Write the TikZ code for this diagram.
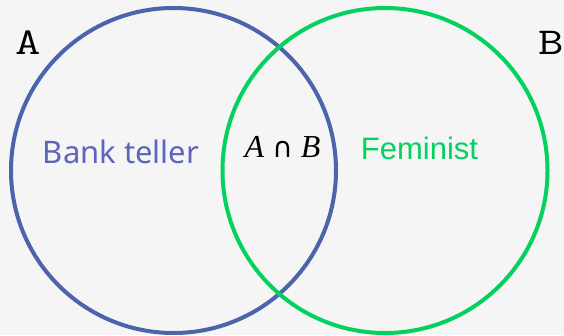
\documentclass[tikz,border=0pt]{standalone}
\usepackage{fontspec}
\setmainfont{Liberation Sans}
\newfontfamily\tellerfont{Noto Sans}
\newfontfamily\mathtextfont{Liberation Serif}
\newfontfamily\capfont{DejaVu Sans}
\definecolor{bggray}{HTML}{F5F5F5}
\definecolor{setblue}{HTML}{4B64AC}
\definecolor{tellerblue}{HTML}{5C64BC}
\definecolor{setgreen}{HTML}{04D15E}
\newcommand{\widemono}[1]{\scalebox{1.3}[1]{#1}}
\tikzset{
  setring/.style={line width=4pt},
  setlabel/.style={anchor=base,inner sep=0pt,font=\ttfamily\fontsize{38}{38}\selectfont},
  settext/.style={anchor=base,inner sep=0pt,font=\fontsize{31}{31}\selectfont}
}
\begin{document}
\begin{tikzpicture}[x=1pt,y=-1pt]
  \fill[bggray] (0,0) rectangle (564,335);
  \useasboundingbox (0,0) rectangle (564,335);

  % the two sets
  \coordinate (cA) at (173.5,170.5);
  \coordinate (cB) at (385,170.5);
  \draw[setring,setblue] (cA) circle (162.5);
  \draw[setring,setgreen] (cB) circle (162.5);

  \node[setlabel] (labA) at (28.5,54) {\widemono{A}};
  \node[setlabel] (labB) at (551.5,54) {\widemono{B}};

  \node[settext,font=\tellerfont\fontsize{31}{31}\selectfont,text=tellerblue]
    (teller) at (121,163) {Bank teller};
  \node[settext,text=setgreen] (feminist) at (419.5,159) {Feminist};
  \node[settext,font=\mathtextfont\fontsize{32}{32}\selectfont] (both)
    at (282.5,157) {\textit{A} {\capfont\fontsize{28}{28}\selectfont ∩} \textit{B}};
\end{tikzpicture}
\end{document}
